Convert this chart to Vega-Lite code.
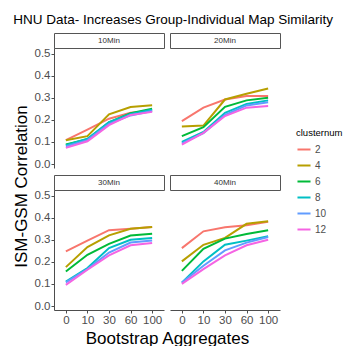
{
  "$schema": "https://vega.github.io/schema/vega-lite/v6.json",
  "padding": {"left": 12, "top": 13, "right": 0, "bottom": 0},
  "background": "white",
  "title": {"text": "HNU Data- Increases Group-Individual Map Similarity", "fontSize": 13.5, "fontWeight": "normal", "color": "#000000", "anchor": "start", "frame": "group", "dx": -40.7, "offset": 6},
  "config": {
    "font": "Liberation Sans",
    "view": {"stroke": null},
    "axis": {"grid": false, "domainColor": "#4d4d4d", "tickColor": "#4d4d4d", "tickSize": 3, "labelColor": "#4d4d4d", "labelFontSize": 11.5, "labelPadding": 1, "titleFontWeight": "normal", "titleColor": "#000000", "titleFontSize": 17},
    "legend": {"orient": "none", "legendX": 242, "legendY": 95, "titleFontSize": 9.5, "titleFontWeight": "normal", "titleColor": "#000000", "titlePadding": 4, "labelFontSize": 10, "labelColor": "#4d4d4d", "symbolType": "stroke", "symbolSize": 170, "symbolStrokeWidth": 2, "rowPadding": 3, "labelOffset": 3}
  },
  "datasets": {
    "d": [
      {"panel": "10Min", "boot": 0, "clusternum": 2, "r": 0.108}, {"panel": "10Min", "boot": 10, "clusternum": 2, "r": 0.156}, {"panel": "10Min", "boot": 30, "clusternum": 2, "r": 0.205}, {"panel": "10Min", "boot": 60, "clusternum": 2, "r": 0.232}, {"panel": "10Min", "boot": 100, "clusternum": 2, "r": 0.240},
      {"panel": "10Min", "boot": 0, "clusternum": 4, "r": 0.108}, {"panel": "10Min", "boot": 10, "clusternum": 4, "r": 0.126}, {"panel": "10Min", "boot": 30, "clusternum": 4, "r": 0.225}, {"panel": "10Min", "boot": 60, "clusternum": 4, "r": 0.258}, {"panel": "10Min", "boot": 100, "clusternum": 4, "r": 0.266},
      {"panel": "10Min", "boot": 0, "clusternum": 6, "r": 0.088}, {"panel": "10Min", "boot": 10, "clusternum": 6, "r": 0.112}, {"panel": "10Min", "boot": 30, "clusternum": 6, "r": 0.188}, {"panel": "10Min", "boot": 60, "clusternum": 6, "r": 0.230}, {"panel": "10Min", "boot": 100, "clusternum": 6, "r": 0.250},
      {"panel": "10Min", "boot": 0, "clusternum": 8, "r": 0.085}, {"panel": "10Min", "boot": 10, "clusternum": 8, "r": 0.114}, {"panel": "10Min", "boot": 30, "clusternum": 8, "r": 0.190}, {"panel": "10Min", "boot": 60, "clusternum": 8, "r": 0.226}, {"panel": "10Min", "boot": 100, "clusternum": 8, "r": 0.246},
      {"panel": "10Min", "boot": 0, "clusternum": 10, "r": 0.080}, {"panel": "10Min", "boot": 10, "clusternum": 10, "r": 0.108}, {"panel": "10Min", "boot": 30, "clusternum": 10, "r": 0.182}, {"panel": "10Min", "boot": 60, "clusternum": 10, "r": 0.220}, {"panel": "10Min", "boot": 100, "clusternum": 10, "r": 0.240},
      {"panel": "10Min", "boot": 0, "clusternum": 12, "r": 0.073}, {"panel": "10Min", "boot": 10, "clusternum": 12, "r": 0.103}, {"panel": "10Min", "boot": 30, "clusternum": 12, "r": 0.176}, {"panel": "10Min", "boot": 60, "clusternum": 12, "r": 0.222}, {"panel": "10Min", "boot": 100, "clusternum": 12, "r": 0.236},
      {"panel": "20Min", "boot": 0, "clusternum": 2, "r": 0.194}, {"panel": "20Min", "boot": 10, "clusternum": 2, "r": 0.255}, {"panel": "20Min", "boot": 30, "clusternum": 2, "r": 0.292}, {"panel": "20Min", "boot": 60, "clusternum": 2, "r": 0.308}, {"panel": "20Min", "boot": 100, "clusternum": 2, "r": 0.308},
      {"panel": "20Min", "boot": 0, "clusternum": 4, "r": 0.170}, {"panel": "20Min", "boot": 10, "clusternum": 4, "r": 0.174}, {"panel": "20Min", "boot": 30, "clusternum": 4, "r": 0.292}, {"panel": "20Min", "boot": 60, "clusternum": 4, "r": 0.318}, {"panel": "20Min", "boot": 100, "clusternum": 4, "r": 0.342},
      {"panel": "20Min", "boot": 0, "clusternum": 6, "r": 0.126}, {"panel": "20Min", "boot": 10, "clusternum": 6, "r": 0.167}, {"panel": "20Min", "boot": 30, "clusternum": 6, "r": 0.259}, {"panel": "20Min", "boot": 60, "clusternum": 6, "r": 0.288}, {"panel": "20Min", "boot": 100, "clusternum": 6, "r": 0.300},
      {"panel": "20Min", "boot": 0, "clusternum": 8, "r": 0.100}, {"panel": "20Min", "boot": 10, "clusternum": 8, "r": 0.145}, {"panel": "20Min", "boot": 30, "clusternum": 8, "r": 0.232}, {"panel": "20Min", "boot": 60, "clusternum": 8, "r": 0.272}, {"panel": "20Min", "boot": 100, "clusternum": 8, "r": 0.288},
      {"panel": "20Min", "boot": 0, "clusternum": 10, "r": 0.093}, {"panel": "20Min", "boot": 10, "clusternum": 10, "r": 0.140}, {"panel": "20Min", "boot": 30, "clusternum": 10, "r": 0.222}, {"panel": "20Min", "boot": 60, "clusternum": 10, "r": 0.265}, {"panel": "20Min", "boot": 100, "clusternum": 10, "r": 0.280},
      {"panel": "20Min", "boot": 0, "clusternum": 12, "r": 0.088}, {"panel": "20Min", "boot": 10, "clusternum": 12, "r": 0.141}, {"panel": "20Min", "boot": 30, "clusternum": 12, "r": 0.217}, {"panel": "20Min", "boot": 60, "clusternum": 12, "r": 0.255}, {"panel": "20Min", "boot": 100, "clusternum": 12, "r": 0.262},
      {"panel": "30Min", "boot": 0, "clusternum": 2, "r": 0.247}, {"panel": "30Min", "boot": 10, "clusternum": 2, "r": 0.296}, {"panel": "30Min", "boot": 30, "clusternum": 2, "r": 0.343}, {"panel": "30Min", "boot": 60, "clusternum": 2, "r": 0.350}, {"panel": "30Min", "boot": 100, "clusternum": 2, "r": 0.358},
      {"panel": "30Min", "boot": 0, "clusternum": 4, "r": 0.176}, {"panel": "30Min", "boot": 10, "clusternum": 4, "r": 0.267}, {"panel": "30Min", "boot": 30, "clusternum": 4, "r": 0.320}, {"panel": "30Min", "boot": 60, "clusternum": 4, "r": 0.350}, {"panel": "30Min", "boot": 100, "clusternum": 4, "r": 0.358},
      {"panel": "30Min", "boot": 0, "clusternum": 6, "r": 0.156}, {"panel": "30Min", "boot": 10, "clusternum": 6, "r": 0.232}, {"panel": "30Min", "boot": 30, "clusternum": 6, "r": 0.281}, {"panel": "30Min", "boot": 60, "clusternum": 6, "r": 0.319}, {"panel": "30Min", "boot": 100, "clusternum": 6, "r": 0.327},
      {"panel": "30Min", "boot": 0, "clusternum": 8, "r": 0.111}, {"panel": "30Min", "boot": 10, "clusternum": 8, "r": 0.172}, {"panel": "30Min", "boot": 30, "clusternum": 8, "r": 0.262}, {"panel": "30Min", "boot": 60, "clusternum": 8, "r": 0.300}, {"panel": "30Min", "boot": 100, "clusternum": 8, "r": 0.308},
      {"panel": "30Min", "boot": 0, "clusternum": 10, "r": 0.107}, {"panel": "30Min", "boot": 10, "clusternum": 10, "r": 0.167}, {"panel": "30Min", "boot": 30, "clusternum": 10, "r": 0.242}, {"panel": "30Min", "boot": 60, "clusternum": 10, "r": 0.287}, {"panel": "30Min", "boot": 100, "clusternum": 10, "r": 0.297},
      {"panel": "30Min", "boot": 0, "clusternum": 12, "r": 0.096}, {"panel": "30Min", "boot": 10, "clusternum": 12, "r": 0.164}, {"panel": "30Min", "boot": 30, "clusternum": 12, "r": 0.229}, {"panel": "30Min", "boot": 60, "clusternum": 12, "r": 0.275}, {"panel": "30Min", "boot": 100, "clusternum": 12, "r": 0.285},
      {"panel": "40Min", "boot": 0, "clusternum": 2, "r": 0.262}, {"panel": "40Min", "boot": 10, "clusternum": 2, "r": 0.338}, {"panel": "40Min", "boot": 30, "clusternum": 2, "r": 0.356}, {"panel": "40Min", "boot": 60, "clusternum": 2, "r": 0.365}, {"panel": "40Min", "boot": 100, "clusternum": 2, "r": 0.381},
      {"panel": "40Min", "boot": 0, "clusternum": 4, "r": 0.202}, {"panel": "40Min", "boot": 10, "clusternum": 4, "r": 0.277}, {"panel": "40Min", "boot": 30, "clusternum": 4, "r": 0.308}, {"panel": "40Min", "boot": 60, "clusternum": 4, "r": 0.372}, {"panel": "40Min", "boot": 100, "clusternum": 4, "r": 0.384},
      {"panel": "40Min", "boot": 0, "clusternum": 6, "r": 0.159}, {"panel": "40Min", "boot": 10, "clusternum": 6, "r": 0.259}, {"panel": "40Min", "boot": 30, "clusternum": 6, "r": 0.305}, {"panel": "40Min", "boot": 60, "clusternum": 6, "r": 0.326}, {"panel": "40Min", "boot": 100, "clusternum": 6, "r": 0.343},
      {"panel": "40Min", "boot": 0, "clusternum": 8, "r": 0.106}, {"panel": "40Min", "boot": 10, "clusternum": 8, "r": 0.202}, {"panel": "40Min", "boot": 30, "clusternum": 8, "r": 0.277}, {"panel": "40Min", "boot": 60, "clusternum": 8, "r": 0.296}, {"panel": "40Min", "boot": 100, "clusternum": 8, "r": 0.316},
      {"panel": "40Min", "boot": 0, "clusternum": 10, "r": 0.106}, {"panel": "40Min", "boot": 10, "clusternum": 10, "r": 0.182}, {"panel": "40Min", "boot": 30, "clusternum": 10, "r": 0.252}, {"panel": "40Min", "boot": 60, "clusternum": 10, "r": 0.287}, {"panel": "40Min", "boot": 100, "clusternum": 10, "r": 0.312},
      {"panel": "40Min", "boot": 0, "clusternum": 12, "r": 0.100}, {"panel": "40Min", "boot": 10, "clusternum": 12, "r": 0.167}, {"panel": "40Min", "boot": 30, "clusternum": 12, "r": 0.229}, {"panel": "40Min", "boot": 60, "clusternum": 12, "r": 0.275}, {"panel": "40Min", "boot": 100, "clusternum": 12, "r": 0.300}
    ]
  },
  "resolve": {"scale": {"color": "shared"}, "legend": {"color": "shared"}},
  "bounds": "flush",
  "align": "each",
  "columns": 2,
  "spacing": {"row": 0, "column": 6},
  "concat": [
    {"width": 110, "height": 15, "data": {"values": [{"panel": "10Min"}]}, "mark": {"type": "text", "fontSize": 8, "color": "#333333"}, "encoding": {"text": {"field": "panel"}}, "view": {"stroke": "#555555", "strokeWidth": 1, "fill": "white"}},
    {"width": 110, "height": 15, "data": {"values": [{"panel": "20Min"}]}, "mark": {"type": "text", "fontSize": 8, "color": "#333333"}, "encoding": {"text": {"field": "panel"}}, "view": {"stroke": "#555555", "strokeWidth": 1, "fill": "white"}},
    {"width": 110, "height": 120, "data": {"name": "d"}, "transform": [{"filter": "datum.panel === '10Min'"}],
     "mark": {"type": "line", "strokeWidth": 2},
     "encoding": {
       "x": {"field": "boot", "type": "ordinal", "scale": {"type": "point", "padding": 0.55}, "axis": null},
       "y": {"field": "r", "type": "quantitative", "scale": {"domain": [-0.018, 0.525], "nice": false, "zero": false}, "axis": {"values": [0, 0.1, 0.2, 0.3, 0.4, 0.5], "format": ".1f", "title": "ISM-GSM Correlation", "titleX": -27.5, "titleY": 138, "titleAlign": "center", "titleBaseline": "alphabetic", "titleAngle": 270}},
       "color": {"field": "clusternum", "type": "ordinal", "title": "clusternum", "scale": {"domain": [2, 4, 6, 8, 10, 12], "range": ["#F8766D", "#B79F00", "#00BA38", "#00BFC4", "#619CFF", "#F564E3"]}}
     }
    },
    {"width": 110, "height": 120, "data": {"name": "d"}, "transform": [{"filter": "datum.panel === '20Min'"}],
     "mark": {"type": "line", "strokeWidth": 2},
     "encoding": {
       "x": {"field": "boot", "type": "ordinal", "scale": {"type": "point", "padding": 0.55}, "axis": null},
       "y": {"field": "r", "type": "quantitative", "scale": {"domain": [-0.018, 0.525], "nice": false, "zero": false}, "axis": null},
       "color": {"field": "clusternum", "type": "ordinal", "title": "clusternum", "scale": {"domain": [2, 4, 6, 8, 10, 12], "range": ["#F8766D", "#B79F00", "#00BA38", "#00BFC4", "#619CFF", "#F564E3"]}}
     }
    },
    {"width": 110, "height": 7, "data": {"values": []}, "mark": {"type": "text"}, "encoding": {}},
    {"width": 110, "height": 7, "data": {"values": []}, "mark": {"type": "text"}, "encoding": {}},
    {"width": 110, "height": 15, "data": {"values": [{"panel": "30Min"}]}, "mark": {"type": "text", "fontSize": 8, "color": "#333333"}, "encoding": {"text": {"field": "panel"}}, "view": {"stroke": "#555555", "strokeWidth": 1, "fill": "white"}},
    {"width": 110, "height": 15, "data": {"values": [{"panel": "40Min"}]}, "mark": {"type": "text", "fontSize": 8, "color": "#333333"}, "encoding": {"text": {"field": "panel"}}, "view": {"stroke": "#555555", "strokeWidth": 1, "fill": "white"}},
    {"width": 110, "height": 120, "data": {"name": "d"}, "transform": [{"filter": "datum.panel === '30Min'"}],
     "mark": {"type": "line", "strokeWidth": 2},
     "encoding": {
       "x": {"field": "boot", "type": "ordinal", "scale": {"type": "point", "padding": 0.55}, "axis": {"labelAngle": 0, "title": "Bootstrap Aggregates", "titleX": 113, "titleY": 33, "titleAlign": "center", "titleBaseline": "alphabetic"}},
       "y": {"field": "r", "type": "quantitative", "scale": {"domain": [-0.018, 0.525], "nice": false, "zero": false}, "axis": {"values": [0, 0.1, 0.2, 0.3, 0.4, 0.5], "format": ".1f", "title": null}},
       "color": {"field": "clusternum", "type": "ordinal", "title": "clusternum", "scale": {"domain": [2, 4, 6, 8, 10, 12], "range": ["#F8766D", "#B79F00", "#00BA38", "#00BFC4", "#619CFF", "#F564E3"]}}
     }
    },
    {"width": 110, "height": 120, "data": {"name": "d"}, "transform": [{"filter": "datum.panel === '40Min'"}],
     "mark": {"type": "line", "strokeWidth": 2},
     "encoding": {
       "x": {"field": "boot", "type": "ordinal", "scale": {"type": "point", "padding": 0.55}, "axis": {"labelAngle": 0, "title": null}},
       "y": {"field": "r", "type": "quantitative", "scale": {"domain": [-0.018, 0.525], "nice": false, "zero": false}, "axis": null},
       "color": {"field": "clusternum", "type": "ordinal", "title": "clusternum", "scale": {"domain": [2, 4, 6, 8, 10, 12], "range": ["#F8766D", "#B79F00", "#00BA38", "#00BFC4", "#619CFF", "#F564E3"]}}
     }
    }
  ]
}
